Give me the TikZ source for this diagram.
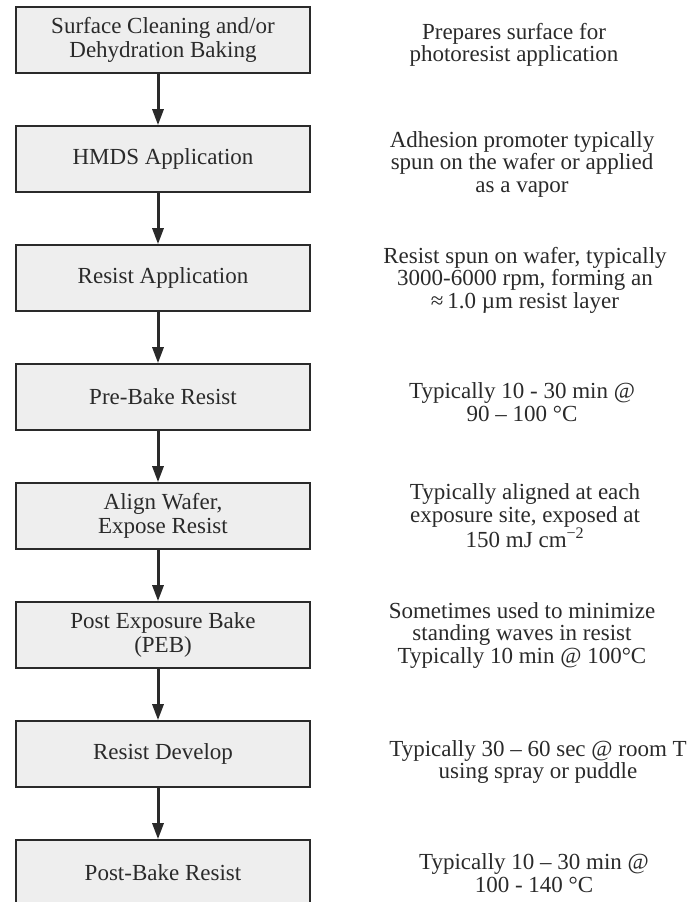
\documentclass[tikz,border=0pt]{standalone}
\usepackage{fontspec}
\setmainfont{Liberation Serif}
\usepackage{tikz}
\usetikzlibrary{arrows.meta, positioning}
\definecolor{BoxFill}{HTML}{EEEEEE}
\definecolor{InkDark}{HTML}{2A2A2A}
\tikzset{
  step node/.style={rectangle, draw=InkDark, fill=BoxFill, line width=1.6pt,
                    minimum width=294pt, minimum height=66pt, inner sep=0pt,
                    align=center, text=InkDark, font=\fontsize{23}{24}\selectfont},
  note node/.style={align=center, text=InkDark, font=\fontsize{23}{22.5}\selectfont},
  flow edge/.style={-{Triangle[length=16pt, width=11pt]}, line width=3pt, draw=InkDark},
}

\begin{document}
\begin{tikzpicture}[node distance=51.4pt]
  \clip (0,0) rectangle (695pt,-902pt);
  % process steps
  \node[step node] (s1) at (163pt,-40pt) {Surface Cleaning and/or\\Dehydration Baking};
  \node[step node, below=of s1] (s2) {HMDS Application};
  \node[step node, below=of s2] (s3) {Resist Application};
  \node[step node, below=of s3] (s4) {Pre-Bake Resist};
  \node[step node, below=of s4] (s5) {Align Wafer,\\Expose Resist};
  \node[step node, below=of s5] (s6) {Post Exposure Bake\\(PEB)};
  \node[step node, below=of s6] (s7) {Resist Develop};
  \node[step node, below=of s7] (s8) {Post-Bake Resist};
  % notes
  \coordinate (col) at (522pt,0);
  \node[note node, xshift=-8pt, yshift=-5pt] (n1) at (s1 -| col) {Prepares surface for\\photoresist application};
  \node[note node, yshift=-5pt] (n2) at (s2 -| col) {Adhesion promoter typically\\spun on the wafer or applied\\as a vapor};
  \node[note node, xshift=3pt, yshift=-2pt] (n3) at (s3 -| col) {Resist spun on wafer, typically\\3000-6000 rpm, forming an\\≈\,1.0 µm resist layer};
  \node[note node, yshift=-5pt] (n4) at (s4 -| col) {Typically 10 - 30 min @\\90 – 100 °C};
  \node[note node, xshift=3pt] (n5) at (s5 -| col) {Typically aligned at each\\exposure site, exposed at\\150 mJ cm\textsuperscript{−2}};
  \node[note node] (n6) at (s6 -| col) {Sometimes used to minimize\\standing waves in resist\\Typically 10 min @ 100°C};
  \node[note node, xshift=16pt, yshift=-8pt] (n7) at (s7 -| col) {Typically 30 – 60 sec @ room T\\using spray or puddle};
  \node[note node, xshift=12pt] (n8) at (s8 -| col) {Typically 10 – 30 min @\\100 - 140 °C};
  % arrows
  \foreach \a/\b in {s1/s2, s2/s3, s3/s4, s4/s5, s5/s6, s6/s7, s7/s8}
    \draw[flow edge] ([xshift=-5pt]\a.south) -- ([xshift=-5pt]\b.north);
\end{tikzpicture}
\end{document}
